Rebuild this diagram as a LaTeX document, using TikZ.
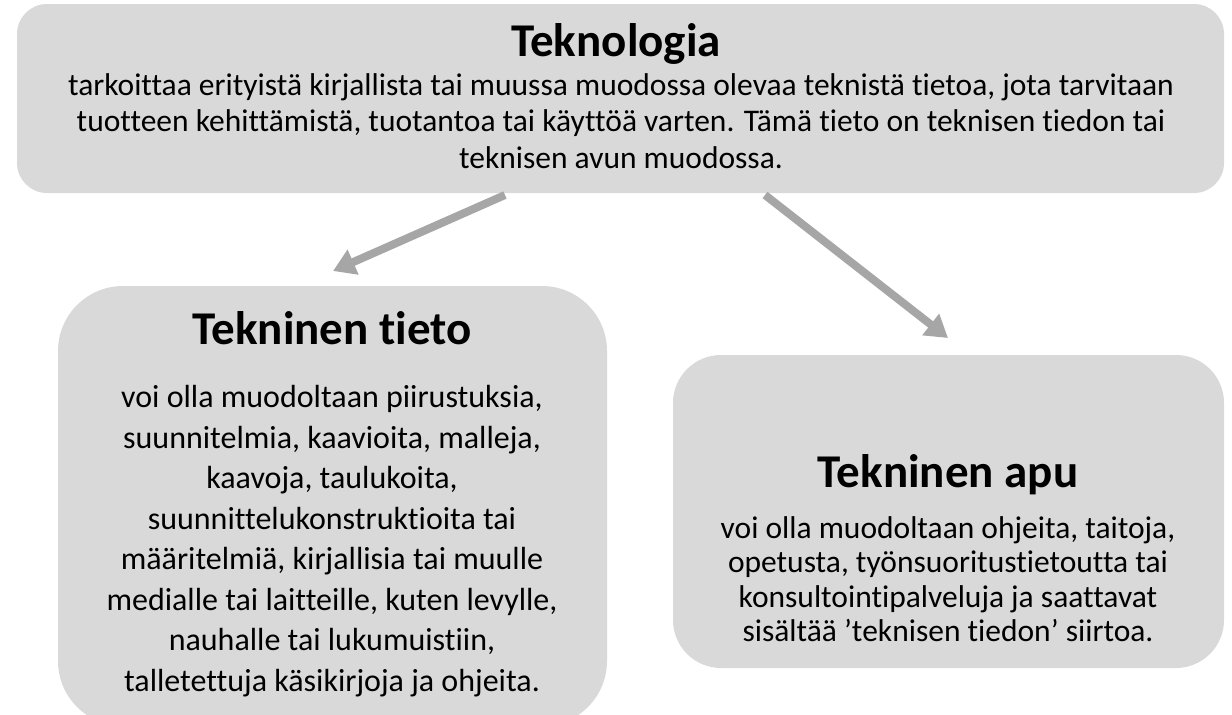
\documentclass[tikz,border=0pt]{standalone}
\usepackage{fontspec}
\setmainfont{Carlito}[Ligatures={NoCommon}]
\usetikzlibrary{arrows.meta}
\definecolor{boxgray}{HTML}{D9D9D9}
\definecolor{arrowgray}{HTML}{A6A6A6}
\begin{document}
\begin{tikzpicture}[x=1pt,y=-1pt,
  box/.style={fill=boxgray, draw=none, inner sep=0pt},
  ttl/.style={font=\fontsize{47}{56}\selectfont\bfseries, inner sep=0pt, anchor=center},
  body/.style={align=center, inner sep=0pt, anchor=center},
  conn/.style={draw=arrowgray, line width=8pt, -{Triangle[width=26pt,length=22pt]}}]
\useasboundingbox (0,0) rectangle (1232,715);
% boxes
\node[box, rounded corners=30pt, minimum width=1207pt, minimum height=189pt] (top) at (620.5,98.5) {};
\node[box, rounded corners=65pt, minimum width=549pt, minimum height=440pt] (left) at (332.5,506) {};
\node[box, rounded corners=48pt, minimum width=551pt, minimum height=313pt] (right) at (948.5,511.5) {};
% texts
\node[ttl] (toptitle) at (616,44) {Teknologia};
\node[body, font=\fontsize{31.5}{36.7}\selectfont] (topbody) at (621,121) {tarkoittaa erityistä kirjallista tai muussa muodossa olevaa teknistä tietoa, jota tarvitaan\\tuotteen kehittämistä, tuotantoa tai käyttöä varten. Tämä tieto on teknisen tiedon tai\\teknisen avun muodossa.};
\node[ttl] (lefttitle) at (332,328) {Tekninen tieto};
\node[body, font=\fontsize{32}{40.5}\selectfont] (leftbody) at (332,541) {voi olla muodoltaan piirustuksia,\\suunnitelmia, kaavioita, malleja,\\kaavoja, taulukoita,\\suunnittelukonstruktioita tai\\määritelmiä, kirjallisia tai muulle\\medialle tai laitteille, kuten levylle,\\nauhalle tai lukumuistiin,\\talletettuja käsikirjoja ja ohjeita.};
\node[ttl] (righttitle) at (948,475) {Tekninen apu};
\node[body, font=\fontsize{31.5}{34.5}\selectfont] (rightbody) at (948,579) {voi olla muodoltaan ohjeita, taitoja,\\opetusta, työnsuoritustietoutta tai\\konsultointipalveluja ja saattavat\\sisältää ’teknisen tiedon’ siirtoa.};
% connectors
\coordinate (a1s) at (505,195);
\coordinate (a1e) at (333,271);
\coordinate (a2s) at (765,195);
\coordinate (a2e) at (948,338);
\draw[conn] (a1s) -- (a1e);
\draw[conn] (a2s) -- (a2e);
\end{tikzpicture}
\end{document}
